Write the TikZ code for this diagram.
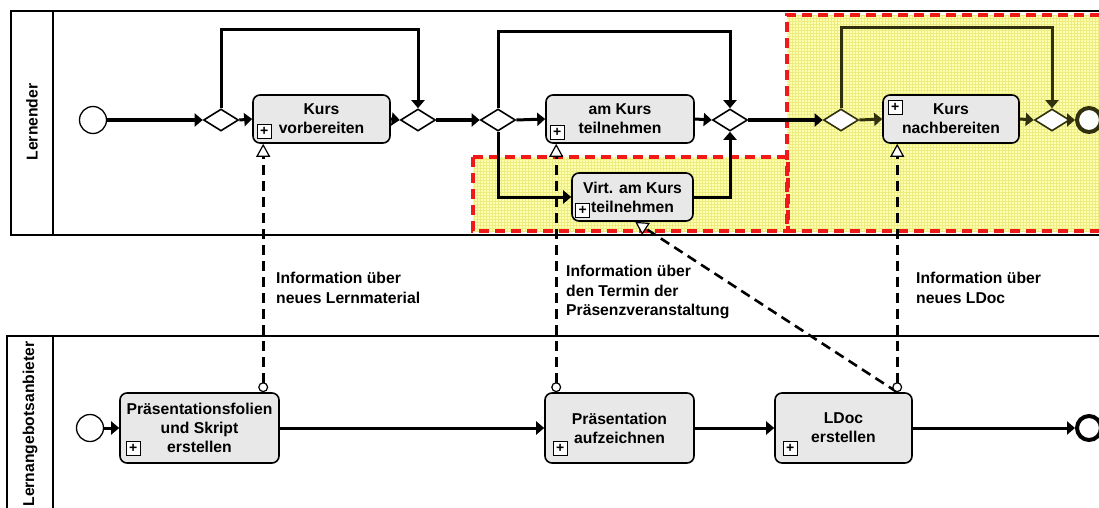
\documentclass[tikz,border=0pt]{standalone}
\usepackage{fontspec}
\setmainfont{Liberation Sans}
\usetikzlibrary{arrows.meta,shapes.geometric,calc}

\definecolor{taskfill}{RGB}{232,232,232}
\definecolor{hlfill}{RGB}{255,255,178}
\definecolor{hlgrid}{RGB}{236,236,128}
\definecolor{hlborder}{RGB}{240,24,24}
\definecolor{hlink}{RGB}{48,48,12}

\begin{document}
\begin{tikzpicture}[x=1pt,y=-1pt,
  every node/.style={font=\bfseries\fontsize{15.7}{19}\selectfont},
  task/.style={draw, line width=1.6pt, rounded corners=7pt, fill=taskfill,
    align=center, inner sep=0pt},
  gateway/.style={diamond, draw, line width=1.6pt, fill=white,
    minimum width=35pt, minimum height=22pt, inner sep=0pt},
  startev/.style={circle, draw, line width=1.3pt, fill=white,
    minimum size=27pt, inner sep=0pt},
  endev/.style={circle, draw, line width=4pt, fill=white,
    minimum size=24pt, inner sep=0pt},
  marker/.style={draw, line width=1.2pt, fill=white, minimum size=14pt,
    inner sep=0pt, font=\bfseries\fontsize{14}{14}\selectfont},
  flow/.style={line width=3pt, -{Triangle[length=8pt,width=13pt]}},
  msgline/.style={line width=2.6pt, dash pattern=on 10pt off 6pt},
  msg/.style={msgline,
    {Circle[fill=white,length=10pt,width=10pt,line width=1.2pt]}-{Triangle[fill=white,length=13pt,width=14pt,line width=1.2pt]}},
  msgto/.style={msgline,
    -{Triangle[fill=white,length=13pt,width=14pt,line width=1.2pt]}},
  pool/.style={line width=1.8pt},
  region/.style={draw=hlborder, line width=3.5pt, dash pattern=on 10pt off 6pt},
  lbl/.style={align=left, anchor=north west, inner sep=0pt},
]
\useasboundingbox (0,0) rectangle (1099,508);

% highlighted areas
\fill[hlfill] (787,15) rectangle (1100,231);
\fill[hlfill] (473,157) rectangle (788,231);
\draw[hlgrid, line width=0.3pt] (787,231) grid[step=3pt] (1100,15);
\draw[hlgrid, line width=0.3pt] (473,231) grid[step=3pt] (788,157);
\draw[region] (1100,15) -- (787,15) -- (787,231) -- (1100,231);
\draw[region] (473,157) rectangle (788,231);

% pools
\draw[pool] (1100,11) -- (11,11) -- (11,235) -- (1100,235);
\draw[pool] (53,11) -- (53,235);
\draw[pool] (1100,336) -- (7,336) -- (7,510);
\draw[pool] (53,336) -- (53,510);
\node[rotate=90] (lane1) at (32,122) {Lernender};
\node[rotate=90] (lane2) at (30,424) {Lernangebotsanbieter};

% Lernender
\node[startev] (s1) at (93,120) {};
\node[gateway] (g1) at (221,120) {};
\node[task, minimum width=137pt, minimum height=48pt] (kv) at (321.5,119) {Kurs\\vorbereiten};
\node[gateway] (g2) at (418,120) {};
\node[gateway] (g3) at (498,120) {};
\node[task, minimum width=148pt, minimum height=48pt] (ak) at (620,119) {am Kurs\\teilnehmen};
\node[task, minimum width=121pt, minimum height=48pt] (vt) at (632.5,197) {Virt. am Kurs\\teilnehmen};
\node[gateway] (g4) at (730,120) {};
\node[gateway, draw=hlink] (g5) at (841,120) {};
\node[task, minimum width=136pt, minimum height=48pt] (kn) at (951,119) {Kurs\\nachbereiten};
\node[gateway, draw=hlink] (g6) at (1052,120) {};
\node[endev, draw=hlink] (e1) at (1089,120) {};

\node[marker] (kvm) at ($(kv.south west)+(12,-12)$) {+};
\node[marker] (akm) at ($(ak.south west)+(12,-11)$) {+};
\node[marker] (vtm) at ($(vt.south west)+(11.5,-11)$) {+};
\node[marker] (knm) at ($(kn.north west)+(13,13)$) {+};

% Lernangebotsanbieter
\node[startev] (s2) at (90,428) {};
\node[task, minimum width=159pt, minimum height=70pt] (pf) at (199.5,428) {Präsentationsfolien\\und Skript\\erstellen};
\node[task, minimum width=149pt, minimum height=70pt] (pa) at (619.5,428) {Präsentation\\aufzeichnen};
\node[task, minimum width=137pt, minimum height=70pt] (ld) at (843.5,428) {LDoc\\erstellen};
\node[endev] (e2) at (1089,428) {};

\node[marker] (pfm) at ($(pf.south west)+(14,-15)$) {+};
\node[marker] (pam) at ($(pa.south west)+(16,-15)$) {+};
\node[marker] (ldm) at ($(ld.south west)+(16,-15)$) {+};

% sequence flows
\draw[flow] (s1) -- (g1.west);
\draw[flow] (g1.east) -- (kv.west);
\draw[flow] (kv.east) -- (g2.west);
\draw[flow] (g1.north) -- ++(0,-79) -| (g2.north);
\draw[flow] (g2.east) -- (g3.west);
\draw[flow] (g3.east) -- (ak.west);
\draw[flow] (g3.north) -- ++(0,-77) -| (g4.north);
\draw[flow] (g3.south) |- (vt.west);
\draw[flow] (ak.east) -- (g4.west);
\draw[flow] (vt.east) -| (g4.south);
\draw[flow] (g4.east) -- (g5.west);
\draw[flow, color=hlink] (g5.east) -- (kn.west);
\draw[flow, color=hlink] (g5.north) -- ++(0,-81) -| (g6.north);
\draw[flow, color=hlink] (kn.east) -- (g6.west);
\draw[flow, color=hlink] (g6.east) -- (e1.west);

\draw[flow] (s2) -- (pf.west);
\draw[flow] (pf.east) -- (pa.west);
\draw[flow] (pa.east) -- (ld.west);
\draw[flow] (ld.east) -- (e2.west);

% message flows
\draw[msgto] ($(ld.north west)+(123,0)$) -- ($(vt.south west)+(64,0)$);
\draw[msg] ($(pf.north west)+(144,0)$) -- ($(kv.south west)+(11,0)$);
\draw[msg] ($(pa.north west)+(12,0)$) -- ($(ak.south west)+(11,0)$);
\draw[msg] ($(ld.north west)+(123,0)$) -- ($(kn.south west)+(15,0)$);

\begin{scope}[every node/.style={font=\bfseries\fontsize{15.7}{19.5}\selectfont}]
\node[lbl] (i1) at (276,272) {Information über\\neues Lernmaterial};
\node[lbl] (i2) at (566,265) {Information über\\den Termin der\\Präsenzveranstaltung};
\node[lbl] (i3) at (916,272) {Information über\\neues LDoc};
\end{scope}
\end{tikzpicture}
\end{document}
